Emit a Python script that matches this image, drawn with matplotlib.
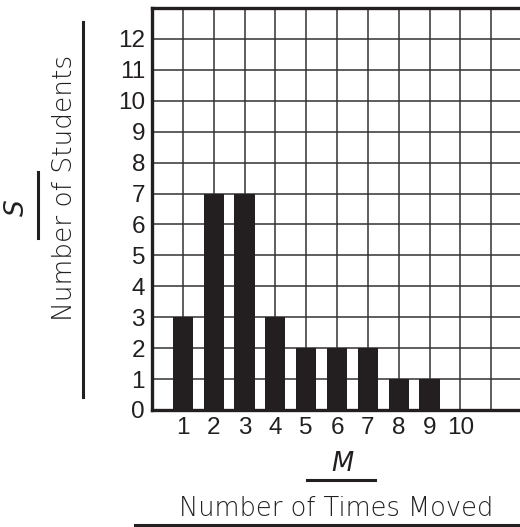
import matplotlib.pyplot as plt
from matplotlib.lines import Line2D

times_moved = [1, 2, 3, 4, 5, 6, 7, 8, 9, 10]
num_students = [3, 7, 7, 3, 2, 2, 2, 1, 1, 0]
y_ticks = list(range(0, 13))

fig = plt.figure(figsize=(5.2, 5.27), dpi=100)
ax = fig.add_axes([152 / 520, 117 / 527, 370 / 520, 402 / 527])

ax.bar(times_moved, num_students, width=0.65, color='#231f20', zorder=3)

ax.set_xlim(0, 12)
ax.set_ylim(0, 13)
# grid squares of one unit
for gx in range(0, 13):
    ax.axvline(gx, color='#333333', linewidth=1.1, zorder=1)
for gy in range(0, 14):
    ax.axhline(gy, color='#333333', linewidth=1.1, zorder=1)
ax.set_xticks(times_moved)
ax.set_yticks(y_ticks)
ax.tick_params(which='both', length=0)
ax.tick_params(axis='y', pad=5, labelsize=17.5)
ax.tick_params(axis='x', pad=5, labelsize=17.5)
for lab in ax.get_xticklabels() + ax.get_yticklabels():
    lab.set_fontfamily('Liberation Sans')
    lab.set_color('#231f20')
for side in ['left', 'bottom', 'top']:
    ax.spines[side].set_linewidth(2.4)
    ax.spines[side].set_color('#231f20')
    ax.spines[side].set_zorder(4)
ax.spines['right'].set_visible(False)

hand = dict(family='DejaVu Sans', fontweight='light', color='#231f20')

# y axis label with answer blank
fig.text(65 / 520, 1 - 188 / 527, 'Number of Students', rotation=90,
         ha='center', va='center', fontsize=19, **hand)
fig.text(17 / 520, 1 - 208 / 527, 'S', rotation=90, style='italic',
         ha='center', va='center', fontsize=19, **hand)
fig.add_artist(Line2D([83 / 520, 83 / 520], [1 - 22 / 527, 1 - 397 / 527],
                      color='#231f20', linewidth=2.2))
fig.add_artist(Line2D([38 / 520, 38 / 520], [1 - 172 / 527, 1 - 238 / 527],
                      color='#231f20', linewidth=2.2))

# x axis label with answer blank
fig.text(336 / 520, 1 - 508 / 527, 'Number of Times Moved',
         ha='center', va='center', fontsize=18.5, **hand)
fig.text(342 / 520, 1 - 464 / 527, 'M', style='italic',
         ha='center', va='center', fontsize=18.5, **hand)
fig.add_artist(Line2D([135 / 520, 1.0], [1 - 525 / 527, 1 - 525 / 527],
                      color='#231f20', linewidth=2.2))
fig.add_artist(Line2D([307 / 520, 375 / 520], [1 - 480 / 527, 1 - 480 / 527],
                      color='#231f20', linewidth=2.2))

fig.savefig('out.png', dpi=100)
